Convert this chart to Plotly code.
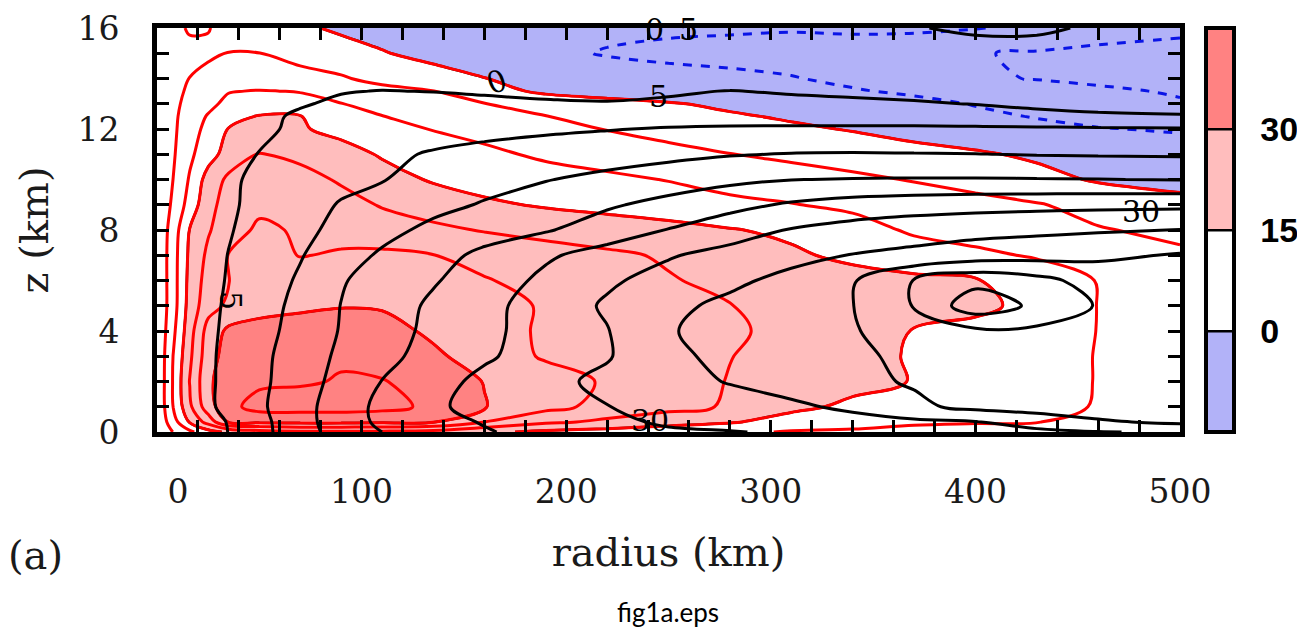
import plotly.graph_objects as go

# ---- grid (radius km, height km) ----
radius = [0, 8, 16, 25, 35, 50, 70, 90, 110, 135, 160, 190, 220, 250, 280, 310, 340, 370, 400, 430, 460, 500]
height = [0, 0.4, 1, 2, 3, 4, 5, 6, 7, 8, 9, 10, 11, 12, 12.5, 13, 13.5, 14, 15, 16]

# ---- tangential wind (m/s), rows = heights ----
v_z0   = [0.5, 5.2, 9, 13, 16, 18, 19, 19, 19, 18, 16, 14, 13, 12, 11, 9.6, 9.4, 9, 8.5, 8, 7.5, 6.5]
v_z04  = [0.5, 8, 15.5, 22, 30.5, 31, 31.5, 31.5, 31, 30.5, 25, 21, 19, 17, 15.5, 13, 11.5, 10.5, 10.3, 10.1, 9.3, 7.5]
v_z1   = [0.5, 10.2, 19, 28, 33.5, 37, 37, 37, 36.5, 34, 30.3, 26.5, 23.5, 21.5, 19.5, 16.2, 14, 12.5, 11.5, 11, 9.8, 8.5]
v_z2   = [0.5, 10.5, 20.2, 29, 33, 34, 34.5, 35.3, 35.2, 33.5, 29.8, 27, 24.5, 22, 19.8, 18.5, 16.5, 14.8, 13, 12, 9.8, 8]
v_z3   = [0.5, 10.2, 19, 28, 32, 33, 34, 34.5, 33.5, 31, 27.5, 24.5, 23, 21.8, 20.1, 18.5, 16.8, 14.5, 13, 12, 9.8, 8]
v_z4   = [0.5, 9, 18, 27, 31, 32, 32.5, 32.8, 32, 29, 26.5, 24.5, 23.3, 22, 20.8, 18.5, 16.8, 14.8, 13.5, 12.5, 9.9, 8]
v_z5   = [0.5, 8, 17, 23, 26, 28, 29, 29.7, 29.5, 28.5, 26.5, 24.6, 23.2, 21.8, 20.1, 18.8, 17.8, 17, 16.2, 13.5, 9.9, 8]
v_z6   = [0.5, 8, 16.5, 22, 24.9, 27, 27.5, 28, 28, 27, 25.3, 23.5, 22, 20.3, 19, 18, 17, 16, 15.3, 13, 9.8, 7.5]
v_z7   = [0.5, 8, 16, 21, 25.2, 26.5, 24.8, 25.5, 26, 25.1, 23.5, 22, 20.8, 19.5, 17.5, 15.8, 13.8, 12.3, 11, 9.5, 7.5, 5.7]
v_z8   = [0.5, 7.5, 15.2, 19.5, 23, 25.8, 24.5, 23.5, 22, 21, 19.7, 18.5, 17.5, 16.5, 15.3, 14, 12, 9.3, 8, 6.8, 5.3, 4]
v_z9   = [0.5, 6, 12, 18.5, 22, 24, 23.5, 21.5, 19.7, 17.8, 15.8, 14.5, 13.5, 12.5, 11, 10.2, 9, 7.8, 6.5, 5.3, 3.5, 1.2]
v_z10  = [0.5, 5.1, 10.5, 17, 21, 22.5, 21.5, 19.5, 17, 14.5, 13.2, 12, 11, 9.8, 8.5, 7.3, 6, 4.7, 3.3, 1.5, -0.5, -1.3]
v_z11  = [0.5, 4.5, 9, 13, 17, 20.2, 19, 17, 14.5, 12.8, 11, 9.2, 7.8, 6.5, 5.1, 3.9, 2.7, 1.6, 0.6, -0.8, -2, -3]
v_z12  = [0.5, 4, 8.5, 11, 15.2, 16.5, 15.5, 13.5, 11.5, 9.8, 8.5, 6.7, 4.8, 3.3, 2, 0.8, -0.3, -1.7, -3, -4, -4.8, -5.4]
v_z125 = [0.5, 3.8, 8, 10.3, 13.5, 15.3, 15.2, 11.8, 10.1, 8.4, 6.7, 5.1, 3.3, 1.8, 0.6, -0.6, -1.7, -2.9, -4.2, -5.2, -6.2, -7.2]
v_z13  = [0.5, 3.5, 7, 9, 11, 12, 11.5, 10.1, 8.5, 7, 5.1, 3.2, 1.8, 0.4, -1, -2, -3, -4, -5.2, -6.5, -8, -9.5]
v_z135 = [0.5, 3.2, 6, 8, 9.8, 10.2, 9.8, 8.2, 6.5, 5.1, 2, -1, -2.3, -3, -3.6, -4.2, -4.7, -5.6, -6.7, -8, -9.2, -10.5]
v_z14  = [0.5, 2.8, 5.1, 6.5, 7.3, 7.5, 6.5, 5.5, 3.5, 2, 0.1, -1.8, -2.8, -3.5, -4.1, -4.8, -5.8, -7, -9.4, -10.2, -11, -11.5]
v_z15  = [0.5, 2, 3.5, 4.2, 5.1, 5.05, 3.5, 2, 0.3, -1.5, -2.7, -4, -5.3, -6, -6.3, -6.5, -6.8, -7.3, -9.8, -10.4, -11, -11.5]
v_z16  = [0.5, 3.5, 5.6, 5.2, 3.5, 2.5, 0.8, -0.8, -1.8, -2.5, -3, -3.5, -4, -4.3, -4.5, -4.7, -4.4, -4.4, -4.8, -6, -8, -9]
wind = [v_z0, v_z04, v_z1, v_z2, v_z3, v_z4, v_z5, v_z6, v_z7, v_z8, v_z9, v_z10,
        v_z11, v_z12, v_z125, v_z13, v_z135, v_z14, v_z15, v_z16]

# ---- black contour field, rows = heights ----
m_z0   = [0, 0.5, 1.5, 3, 5.1, 8.5, 13, 17, 20, 22.5, 24.5, 27, 28.5, 29.5, 29.8, 30.5, 31, 32, 33, 34, 34.8, 35.5]
m_z04  = [0, 1.2, 2.4, 3.7, 5.2, 8.6, 13.2, 17.5, 21, 23, 25.4, 27.4, 29.2, 30.5, 31.4, 32.3, 33.2, 34.1, 34.8, 37, 39.3, 41]
m_z1   = [0, 1.4, 2.8, 4.3, 6.2, 9.2, 13.2, 17.6, 21.2, 24.4, 26.2, 28.1, 29.9, 31.3, 32.7, 34.1, 36, 39, 41.3, 42.3, 43, 43.5]
m_z2   = [0, 1.4, 2.8, 4.3, 6.2, 8.9, 12.8, 16.6, 20.1, 23.4, 26.1, 28.7, 31.1, 33.2, 35.3, 37.1, 38.8, 40.5, 41.5, 42.2, 43, 43.5]
m_z3   = [0, 1.4, 2.8, 4.3, 6.1, 8.8, 12.4, 15.9, 18.7, 21.7, 24.4, 27, 29.6, 34, 36.2, 37.7, 39.2, 41, 42, 42.8, 43.5, 44]
m_z4   = [0, 1.3, 2.7, 4.2, 5.8, 8.3, 11.8, 15.3, 18, 21.1, 23.9, 27, 29.8, 34.7, 36.5, 38, 39.7, 42, 44, 44, 43, 42.5]
m_z5   = [0, 1.3, 2.6, 4, 5.6, 8, 11.3, 15.1, 17.6, 20.8, 23.6, 27.2, 30.6, 33.8, 36.2, 38, 39.9, 45.3, 53, 49, 44.6, 42]
m_z6   = [0, 1.2, 2.4, 3.8, 5.3, 7.5, 10.6, 14.6, 17, 19.6, 22.3, 26.1, 29.3, 31.7, 33.9, 36.5, 39.6, 45.2, 48.5, 46.5, 43, 41.5]
m_z7   = [0, 1.1, 2.3, 3.6, 5.1, 7, 9.7, 12.8, 15.7, 18.4, 21, 24.3, 27, 29.6, 31.6, 33.4, 35.2, 36.2, 37.5, 38.2, 39, 40.4]
m_z8   = [0, 1.1, 2.2, 3.4, 4.7, 6.5, 8.9, 11.2, 13.5, 16.2, 18.1, 19.6, 22.3, 25.2, 27.8, 30.3, 31.8, 32.8, 33.5, 34, 34.5, 35.1]
m_z9   = [0, 1, 2, 3.1, 4.4, 6.1, 8.3, 10.3, 11.9, 13.6, 15.4, 17.3, 19.4, 21.4, 23.6, 25.6, 27, 27.8, 28.3, 28.6, 28.8, 29]
m_z10  = [0, 1, 2, 3, 4.3, 5.9, 7.6, 8.9, 9.8, 11.5, 13.2, 14.8, 16.2, 17.6, 18.9, 19.9, 20.2, 20.3, 20.3, 20.2, 20.1, 19.8]
m_z11  = [0, 0.9, 1.8, 2.7, 3.8, 5.1, 6.6, 7.9, 9.1, 10.4, 11.3, 12.1, 12.9, 13.8, 14.7, 15.2, 15.3, 15.2, 15.1, 14.8, 14.6, 14.5]
m_z12  = [0, 0.8, 1.6, 2.4, 3.3, 4.4, 5.6, 6.5, 7.3, 8.1, 8.7, 9.3, 9.8, 10.3, 10.6, 10.7, 10.8, 10.9, 10.9, 10.8, 10.6, 10.4]
m_z125 = [0, 0.7, 1.4, 2.1, 2.9, 4.2, 5.5, 6.2, 6.8, 7.3, 7.6, 7.8, 8, 8.1, 8.1, 8, 7.8, 7.3, 6.6, 6, 5.6, 5.3]
m_z13  = [0, 0.6, 1.2, 1.8, 2.5, 3.4, 4.7, 5.6, 6, 6.2, 6, 5.5, 5.2, 5.5, 5.9, 5.8, 5.6, 5.3, 4.9, 4.3, 3.8, 3.5]
m_z135 = [0, 0.5, 1, 1.5, 2.1, 2.9, 3.9, 4.8, 5.1, 4.9, 4.5, 4.1, 4.2, 4.6, 5.1, 4.7, 4.4, 4.1, 3.8, 3.3, 3, 2.8]
m_z14  = [0, 0.4, 0.8, 1.2, 1.7, 2.3, 3, 3.5, 3.6, 3.6, 3.4, 3.2, 3.1, 3.1, 3.1, 3, 3, 2.9, 2.8, 2.7, 2.6, 2.5]
m_z15  = [0, 0.3, 0.6, 0.9, 1.3, 1.8, 2.3, 2.7, 2.9, 3, 3, 3, 3, 3, 3, 3, 3, 3, 3.5, 3.5, 3, 2.8]
m_z16  = [0, 0.3, 0.6, 0.9, 1.2, 1.6, 2, 2.4, 2.7, 2.9, 3, 3, 3, 3, 3, 3, 3.5, 4.8, 5.6, 5.6, 4.5, 3]
angmom = [m_z0, m_z04, m_z1, m_z2, m_z3, m_z4, m_z5, m_z6, m_z7, m_z8, m_z9, m_z10,
          m_z11, m_z12, m_z125, m_z13, m_z135, m_z14, m_z15, m_z16]

# ---- ticks / labels ----
x_ticks = list(range(0, 501, 20))
x_labels = {0: "\u2007\u20070", 100: "100", 200: "200", 300: "300", 400: "400", 500: "500"}
y_ticks = list(range(0, 17))
y_labels = {0: "0", 4: "4", 8: "8", 12: "12", 16: "16"}
cbar_vals = [0, 15, 30]

c_blue, c_white, c_pink, c_red = "#B2B2F8", "#FFFFFF", "#FFBDBD", "#FF8282"
serif = "DejaVu Serif"

fig = go.Figure()

# filled bands (0 / 15 / 30)
fig.add_trace(go.Contour(
    x=radius, y=height, z=wind,
    contours=dict(start=0, end=30, size=15, coloring="fill", showlines=True),
    line=dict(color="black", width=2.5, smoothing=1),
    colorscale=[[0, c_blue], [0.2, c_blue], [0.2, c_white], [0.5, c_white],
                [0.5, c_pink], [0.8, c_pink], [0.8, c_red], [1, c_red]],
    zmin=-15, zmax=45,
    hoverinfo="skip",
    colorbar=dict(x=1.0254, xanchor="left", xpad=0, ypad=0, y=0.5, yanchor="middle",
                  len=1, lenmode="fraction", thickness=28, outlinewidth=4, outlinecolor="black",
                  tickmode="array", tickvals=cbar_vals, ticktext=[str(v) for v in cbar_vals],
                  ticks="outside", ticklen=18, tickcolor="rgba(0,0,0,0)",
                  tickfont=dict(family="Liberation Sans", size=34, color="black", weight="bold")),
))
# red positive contours
fig.add_trace(go.Contour(
    x=radius, y=height, z=wind,
    contours=dict(start=0, end=35, size=5, coloring="none"),
    line=dict(color="#FF0000", width=3, smoothing=1),
    showscale=False, hoverinfo="skip",
))
# blue dashed negative contours
fig.add_trace(go.Contour(
    x=radius, y=height, z=wind,
    contours=dict(start=-10, end=-5, size=5, coloring="none"),
    line=dict(color="#0A14E6", width=3, dash="dash", smoothing=1),
    showscale=False, hoverinfo="skip",
))
# black contours
fig.add_trace(go.Contour(
    x=radius, y=height, z=angmom,
    contours=dict(start=5, end=50, size=5, coloring="none"),
    line=dict(color="black", width=3, smoothing=1),
    showscale=False, hoverinfo="skip",
))

axis_font = dict(family=serif, size=33, color="#1a1a1a")
fig.update_xaxes(
    range=[0, 500], tickmode="array", tickvals=x_ticks,
    ticktext=[x_labels.get(v, "") for v in x_ticks],
    ticks="inside", ticklen=12, tickwidth=3, tickcolor="black",
    showline=True, linewidth=5, linecolor="black", mirror="ticks",
    showgrid=False, zeroline=False, tickfont=axis_font, ticklabelstandoff=26,
    title=dict(text="radius (km)", font=dict(family=serif, size=40, color="#1a1a1a"), standoff=30),
)
fig.update_yaxes(
    range=[0, 16], tickmode="array", tickvals=y_ticks,
    ticktext=[y_labels.get(v, "") for v in y_ticks],
    ticks="inside", ticklen=12, tickwidth=3, tickcolor="black",
    showline=True, linewidth=5, linecolor="black", mirror="ticks",
    showgrid=False, zeroline=False, tickfont=axis_font, ticklabelstandoff=26,
    title=dict(text="z (km)", font=dict(family=serif, size=40, color="#1a1a1a"), standoff=18),
)

lab = dict(family=serif, size=30, color="black")
annotations = [
    dict(text="0", x=166, y=13.9, font=lab, textangle=-20),
    dict(text="5", x=245, y=13.3, font=lab),
    dict(text="0", x=243, y=15.95, font=lab),
    dict(text="5", x=260, y=15.95, font=lab),
    dict(text="5", x=36, y=5.2, font=lab, textangle=90),
    dict(text="30", x=241, y=0.45, font=lab),
    dict(text="30", x=481, y=8.75, font=lab),
]
for a in annotations:
    a.update(xref="x", yref="y", showarrow=False)
annotations.append(dict(text="(a)", xref="paper", yref="paper", x=-0.148, y=-0.305,
                        xanchor="left", yanchor="middle", showarrow=False,
                        font=dict(family=serif, size=40, color="#1a1a1a")))
annotations.append(dict(text="fig1a.eps", xref="paper", yref="paper", x=0.4995, y=-0.445,
                        xanchor="center", yanchor="middle", showarrow=False,
                        font=dict(family="Lato", size=26, color="black")))

fig.update_layout(
    width=1297, height=628,
    margin=dict(l=157, r=117, t=28, b=196, autoexpand=False),
    paper_bgcolor="white", plot_bgcolor="white",
    showlegend=False, annotations=annotations,
)

fig.write_html("out.html")
